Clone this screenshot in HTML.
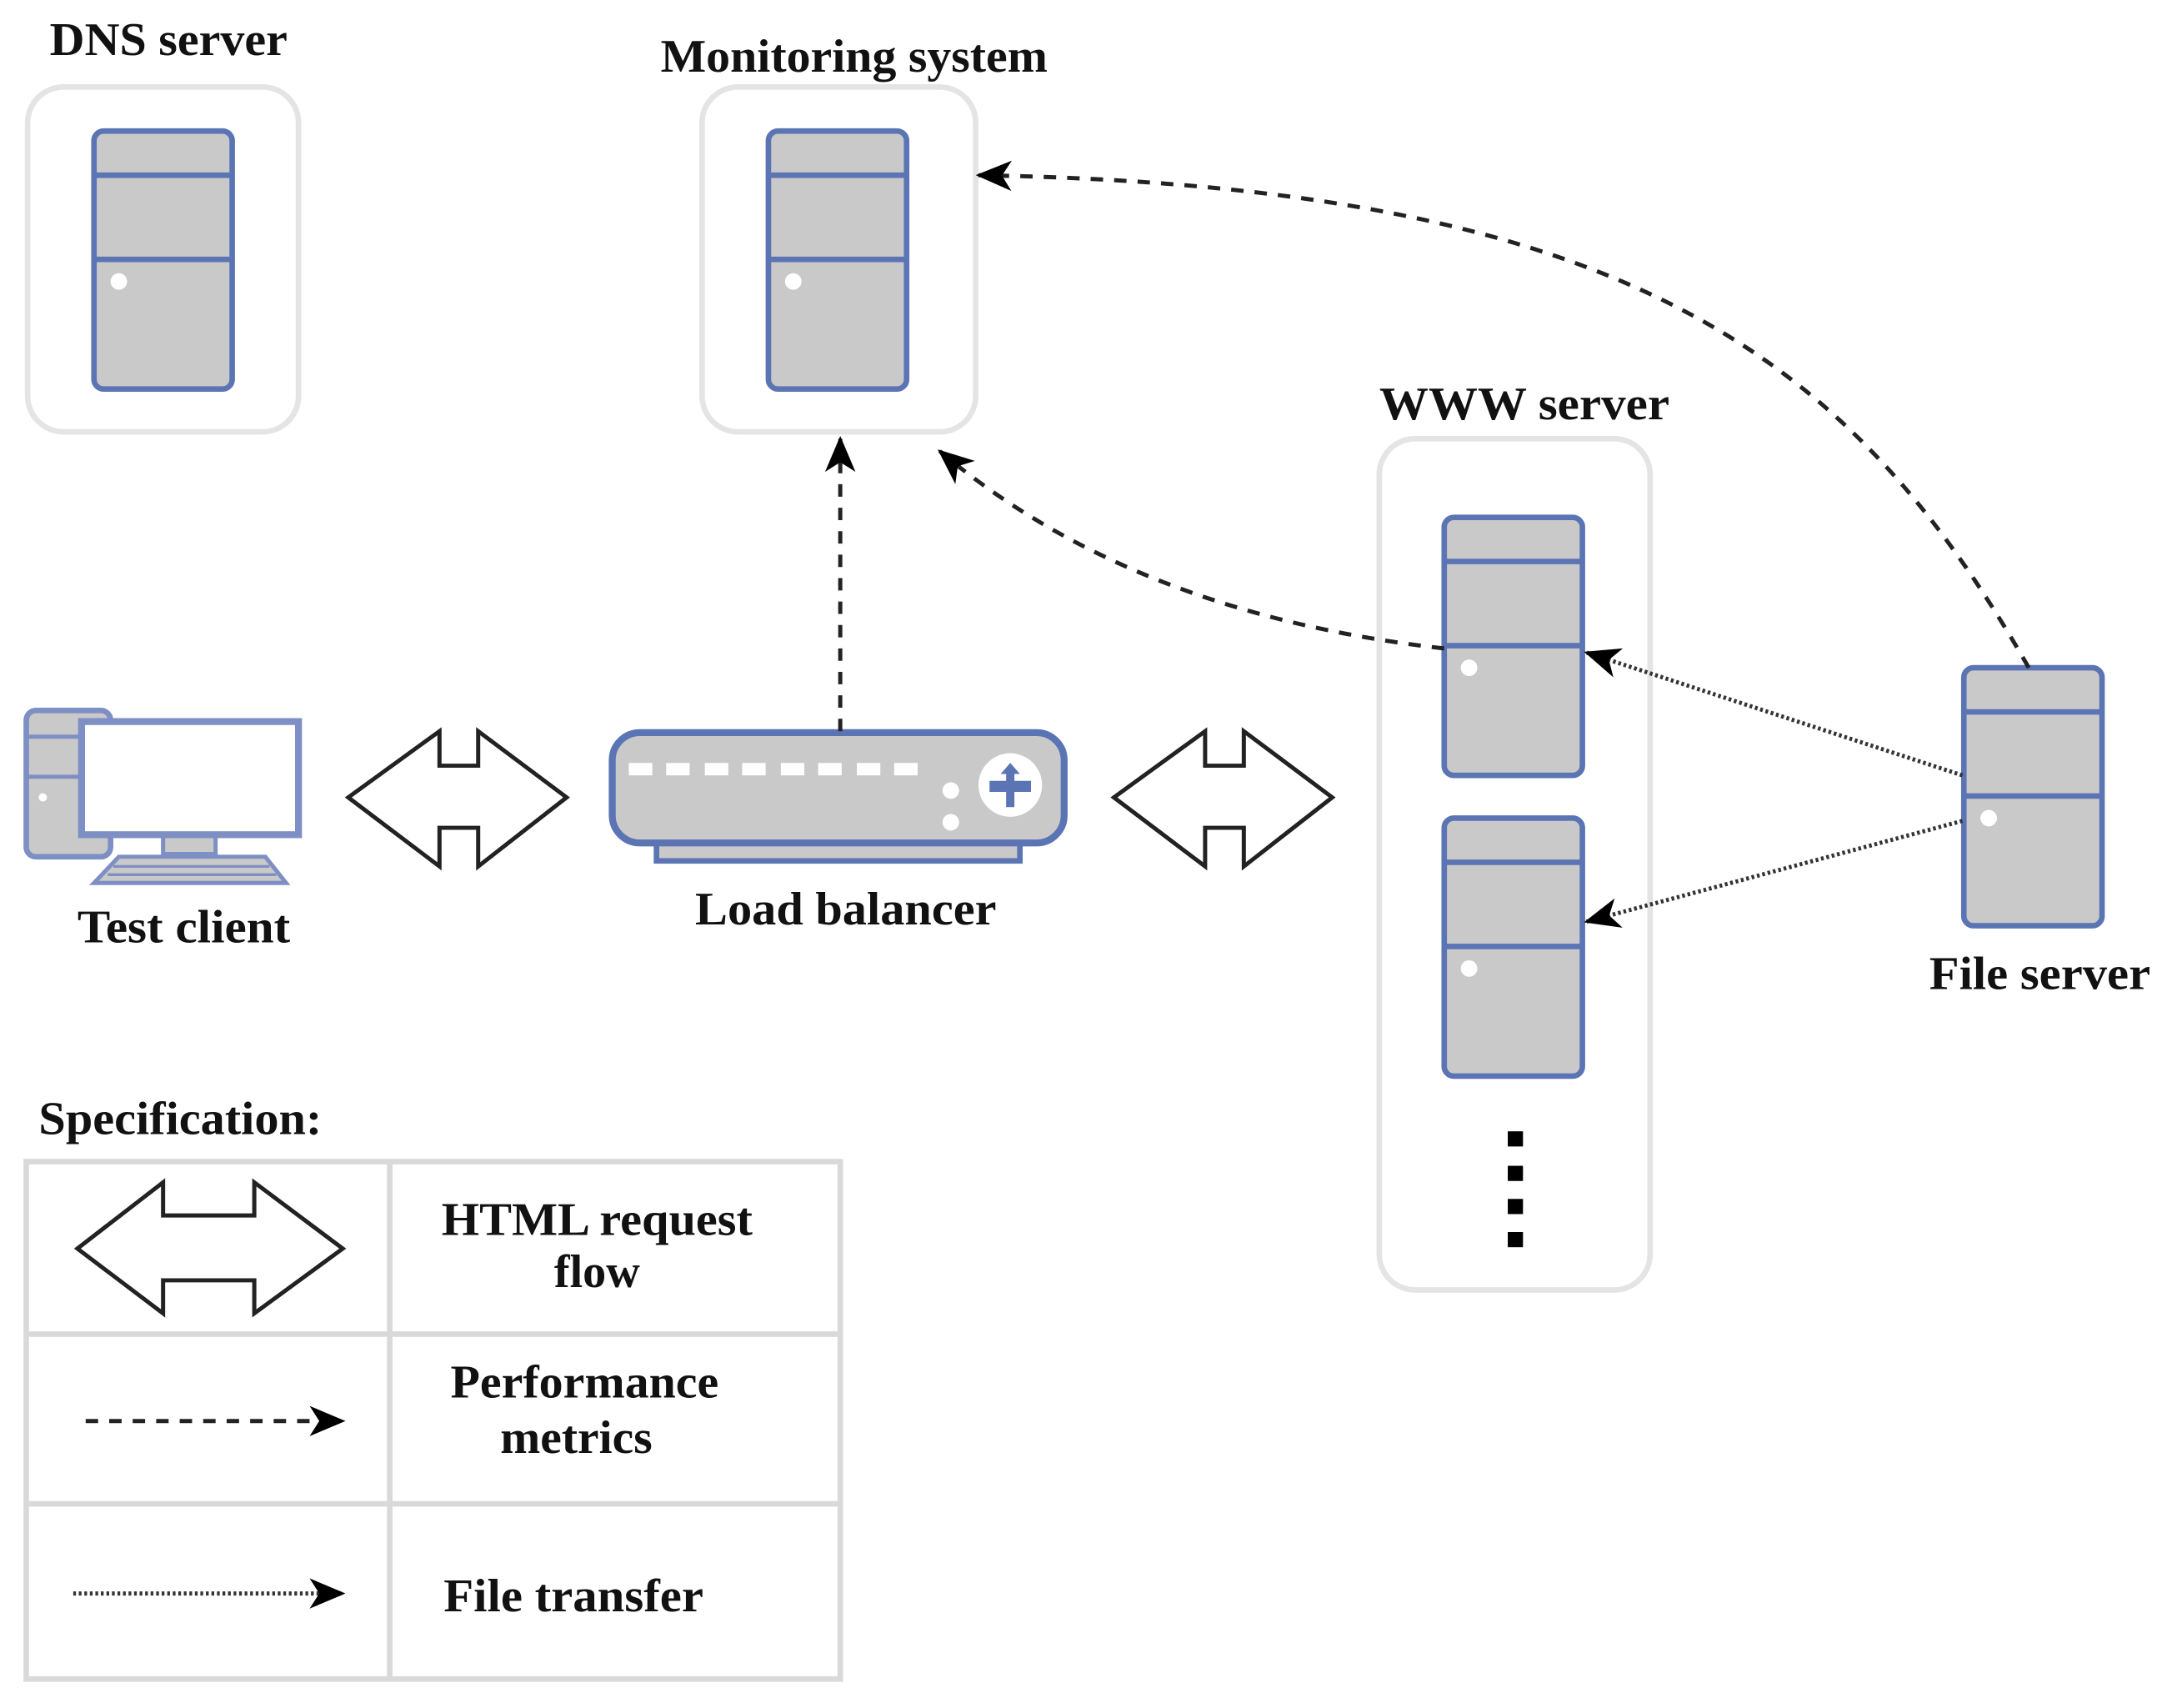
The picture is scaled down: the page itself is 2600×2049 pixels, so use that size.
<!DOCTYPE html>
<html><head><meta charset="utf-8"><style>
html,body{margin:0;padding:0;background:#fff;}
svg{display:block;}
text{font-family:"Liberation Serif",serif;font-weight:bold;fill:#111;}
</style></head><body>
<svg width="2600" height="2049" viewBox="0 0 1568 1238" preserveAspectRatio="none" xmlns="http://www.w3.org/2000/svg">
<defs>
<marker id="ah" viewBox="0 0 26 22" refX="24" refY="11" markerWidth="26" markerHeight="22" markerUnits="userSpaceOnUse" orient="auto">
<path d="M26,11 L0,0 L7,11 L0,22 Z" fill="#000"/>
</marker>
<g id="srv">
<rect x="0" y="0" width="100" height="187" rx="7" fill="#c9c9c9" stroke="#5b74b4" stroke-width="4"/>
<line x1="0" y1="32" x2="100" y2="32" stroke="#5b74b4" stroke-width="4"/>
<line x1="0" y1="93" x2="100" y2="93" stroke="#5b74b4" stroke-width="4"/>
<circle cx="18" cy="109" r="6" fill="#fff"/>
</g>
<path id="dbl" d="M0,48 L66,0 L66,25 L94,25 L94,0 L158,48 L94,98 L94,70 L66,70 L66,98 Z" fill="#fff" stroke="#222" stroke-width="3" stroke-linejoin="miter"/>
</defs>

<g font-size="34">
<text x="122" y="40" text-anchor="middle" textLength="172" lengthAdjust="spacingAndGlyphs">DNS server</text>
<text x="618" y="52" text-anchor="middle" textLength="280" lengthAdjust="spacingAndGlyphs">Monitoring system</text>
<text x="1103" y="304" text-anchor="middle" textLength="210" lengthAdjust="spacingAndGlyphs">WWW server</text>
<text x="1476" y="717" text-anchor="middle" textLength="160" lengthAdjust="spacingAndGlyphs">File server</text>
<text x="133" y="683" text-anchor="middle" textLength="154" lengthAdjust="spacingAndGlyphs">Test client</text>
<text x="612" y="670" text-anchor="middle" textLength="218" lengthAdjust="spacingAndGlyphs">Load balancer</text>
</g>

<rect x="20" y="63" width="196" height="250" rx="26" fill="#fff" stroke="#e4e4e4" stroke-width="4"/>
<rect x="508" y="63" width="198" height="250" rx="26" fill="#fff" stroke="#e4e4e4" stroke-width="4"/>
<rect x="998" y="318" width="196" height="617" rx="26" fill="#fff" stroke="#e4e4e4" stroke-width="4"/>

<use href="#srv" x="68" y="95"/>
<use href="#srv" x="556" y="95"/>
<use href="#srv" x="1045" y="375"/>
<use href="#srv" x="1045" y="593"/>
<use href="#srv" x="1421" y="484"/>

<g fill="#000">
<rect x="1091" y="820" width="11" height="11"/>
<rect x="1091" y="845" width="11" height="11"/>
<rect x="1091" y="869" width="11" height="11"/>
<rect x="1091" y="893" width="11" height="11"/>
</g>

<rect x="19" y="515" width="61" height="106" rx="7" fill="#c9c9c9" stroke="#7d8fc4" stroke-width="4"/>
<line x1="19" y1="534" x2="80" y2="534" stroke="#7d8fc4" stroke-width="3"/>
<line x1="19" y1="563" x2="80" y2="563" stroke="#7d8fc4" stroke-width="3"/>
<circle cx="31" cy="578" r="3" fill="#fff"/>
<rect x="118" y="603" width="38" height="16" fill="#c9c9c9" stroke="#7d8fc4" stroke-width="3"/>
<rect x="59" y="523" width="157" height="82" fill="#fff" stroke="#7d8fc4" stroke-width="5"/>
<path d="M68,640 L207,640 L192,621 L86,621 Z" fill="#c9c9c9" stroke="#7d8fc4" stroke-width="3"/>
<line x1="82" y1="628" x2="195" y2="628" stroke="#7d8fc4" stroke-width="2"/>
<line x1="78" y1="634" x2="200" y2="634" stroke="#7d8fc4" stroke-width="2"/>

<rect x="475" y="608" width="263" height="16" fill="#c9c9c9" stroke="#5b74b4" stroke-width="4"/>
<rect x="443" y="531" width="327" height="80" rx="20" fill="#c9c9c9" stroke="#5b74b4" stroke-width="5"/>
<g fill="#fff">
<rect x="455" y="553" width="17" height="9"/><rect x="482" y="553" width="17" height="9"/>
<rect x="510" y="553" width="17" height="9"/><rect x="537" y="553" width="17" height="9"/>
<rect x="565" y="553" width="17" height="9"/><rect x="592" y="553" width="17" height="9"/>
<rect x="620" y="553" width="17" height="9"/><rect x="647" y="553" width="17" height="9"/>
<circle cx="688" cy="573" r="6"/><circle cx="688" cy="596" r="6"/>
<circle cx="731" cy="569" r="23"/>
</g>
<path d="M731,553 L738,561 L734,561 L734,566 L746,566 L746,574 L734,574 L734,585 L728,585 L728,574 L716,574 L716,566 L728,566 L728,561 L724,561 Z" fill="#5b74b4"/>

<use href="#dbl" x="252" y="530"/>
<use href="#dbl" x="806" y="530"/>

<g fill="none" stroke="#222" stroke-width="3" stroke-dasharray="9,8">
<line x1="608" y1="530" x2="608" y2="318" marker-end="url(#ah)"/>
<path d="M1045,470 Q820,445 680,327" marker-end="url(#ah)"/>
<path d="M1468,484 C1340,260 1180,135 708,127" marker-end="url(#ah)"/>
</g>
<g fill="none" stroke="#333" stroke-width="3" stroke-dasharray="2,2">
<line x1="1420" y1="562" x2="1148" y2="473" marker-end="url(#ah)"/>
<line x1="1420" y1="595" x2="1148" y2="668" marker-end="url(#ah)"/>
</g>

<text x="28" y="822" font-size="34" textLength="205" lengthAdjust="spacingAndGlyphs">Specification:</text>
<g stroke="#d9d9d9" stroke-width="4" fill="none">
<rect x="19" y="842" width="589" height="375"/>
<line x1="282" y1="842" x2="282" y2="1217"/>
<line x1="19" y1="967" x2="608" y2="967"/>
<line x1="19" y1="1090" x2="608" y2="1090"/>
</g>
<path d="M56,905 L118,857 L118,881 L184,881 L184,857 L248,905 L184,952 L184,928 L118,928 L118,952 Z" fill="#fff" stroke="#222" stroke-width="3"/>
<line x1="62" y1="1030" x2="248" y2="1030" stroke="#222" stroke-width="3" stroke-dasharray="9,8" marker-end="url(#ah)"/>
<line x1="53" y1="1155" x2="248" y2="1155" stroke="#333" stroke-width="3" stroke-dasharray="2,2" marker-end="url(#ah)"/>
<g font-size="34">
<text x="432" y="895" text-anchor="middle" textLength="225" lengthAdjust="spacingAndGlyphs">HTML request</text>
<text x="432" y="933" text-anchor="middle" textLength="62" lengthAdjust="spacingAndGlyphs">flow</text>
<text x="423" y="1013" text-anchor="middle" textLength="194" lengthAdjust="spacingAndGlyphs">Performance</text>
<text x="417" y="1053" text-anchor="middle" textLength="110" lengthAdjust="spacingAndGlyphs">metrics</text>
<text x="415" y="1168" text-anchor="middle" textLength="188" lengthAdjust="spacingAndGlyphs">File transfer</text>
</g>
</svg>
</body></html>
